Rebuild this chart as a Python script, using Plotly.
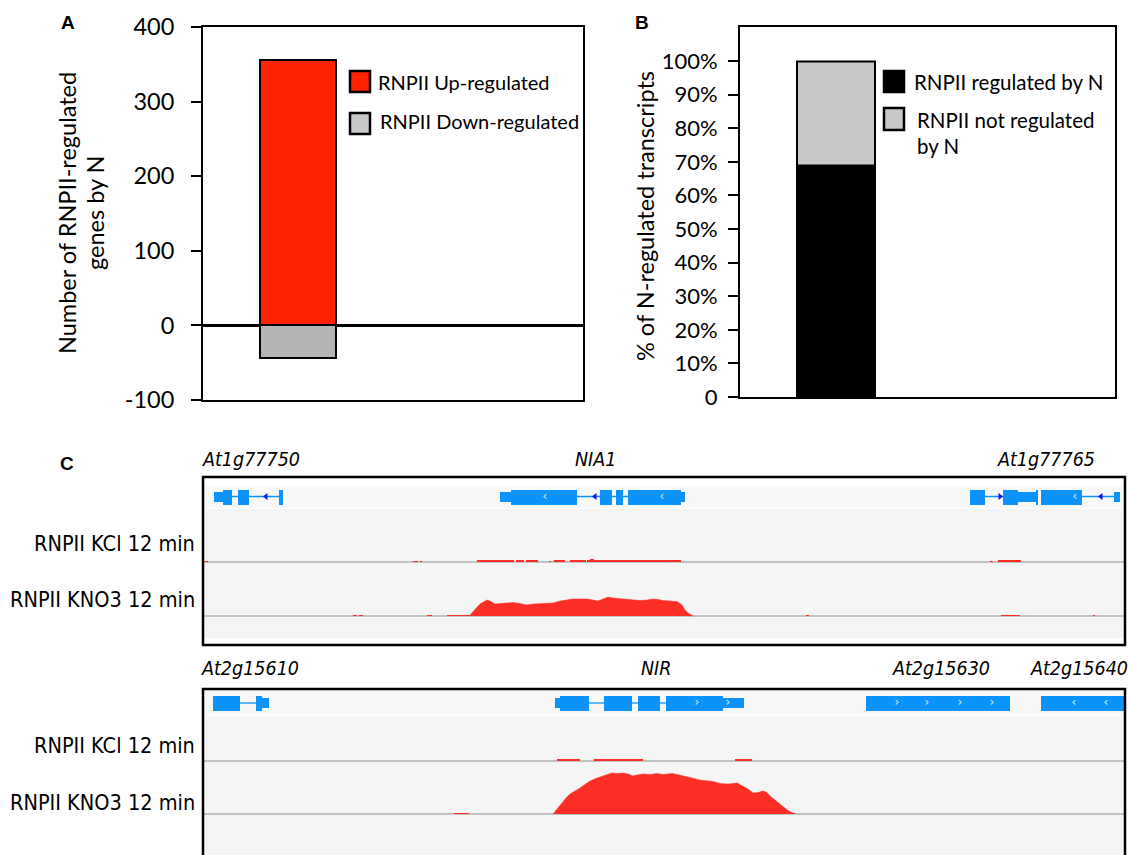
import plotly.graph_objects as go

W, H = 1128, 855
def fx(px): return px / W
def fy(py): return 1 - py / H

# ---------------- data ----------------
# Panel A
a_labels = ["RNPII Up-regulated", "RNPII Down-regulated"]
a_values = [356, -44]
a_tickvals = [-100, 0, 100, 200, 300, 400]
a_ticktext = ["-100", "0", "100", "200", "300", "400"]
a_title_lines = ["Number of RNPII-regulated", "genes by N"]
# Panel B
b_labels = ["RNPII regulated by N", "RNPII not regulated by N"]
b_values = [69, 31]
b_tickvals = [0, 10, 20, 30, 40, 50, 60, 70, 80, 90, 100]
b_ticktext = ["0", "10%", "20%", "30%", "40%", "50%", "60%", "70%", "80%", "90%", "100%"]

# Panel C, NIA1 locus (relative position, bp)
nia_gene_names = ["At1g77750", "NIA1", "At1g77765"]
nia_gene_label_pos = [0, 3910, 8420]
nia_exon_start = [190, 340, 750, 3070, 3960, 4120, 4240, 7660, 7990, 8320, 8370]
nia_exon_end = [280, 450, 790, 3730, 4080, 4190, 4770, 7810, 8140, 8340, 8780]
nia_utr_start = [100, 2960, 4770, 8140, 9100]
nia_utr_end = [190, 3070, 4810, 8320, 9160]
nia_intron_start = [280, 450, 3730, 4080, 4190, 7810, 8780]
nia_intron_end = [340, 750, 3960, 4120, 4240, 7990, 9100]
nia_intron_arrow_pos = [620, 3910, 7960, 8970]
nia_intron_arrow_dir = ["left", "left", "right", "left"]
nia_exon_arrow_pos = [3410, 4580, 8710]
nia_exon_arrow_dir = ["left", "left", "left"]
# KCl coverage segments
nia_kcl_start = [0, 2090, 2160, 2730, 3120, 3220, 3450, 3500, 3660, 3830, 3860, 3900, 3930, 7860, 7940]
nia_kcl_end = [40, 2140, 2180, 3100, 3200, 3340, 3470, 3610, 3820, 3860, 3900, 3930, 4770, 7890, 8170]
nia_kcl_cov = [1, 1, 1, 1.5, 1.3, 1.3, 1, 1.2, 1.5, 2, 3, 2.2, 1.2, 1, 1.5]
# KNO3 coverage: isolated low segments
nia_kno3_blip_start = [1490, 1550, 2230, 2430, 6020, 7970, 8890]
nia_kno3_blip_end = [1530, 1590, 2280, 2660, 6050, 8160, 8910]
nia_kno3_blip_cov = [1, 1, 1, 1, 1, 1, 1]
# KNO3 coverage: main peak over NIA1
nia_kno3_pos = [2660, 2710, 2760, 2830, 2860, 2910, 2960, 3030, 3090, 3160, 3230, 3290, 3360, 3430,
                3490, 3560, 3630, 3690, 3760, 3830, 3890, 3940, 3990, 4040, 4090, 4160, 4230, 4290,
                4360, 4430, 4490, 4540, 4590, 4660, 4730, 4780, 4810, 4840, 4890]
nia_kno3_cov = [1, 6, 12, 16, 15, 12, 12.5, 13, 13.5, 12.5, 11, 12, 12.5, 12.3,
                13, 15, 16, 17, 17, 17, 16, 15, 17, 19, 18, 17.5, 16.5, 16,
                15.5, 16, 17, 16.5, 15.5, 15, 14.5, 11, 6, 3, 0]

# Panel C, NIR locus
nir_gene_names = ["At2g15610", "NIR", "At2g15630", "At2g15640"]
nir_gene_label_pos = [0, 4520, 7370, 8750]
nir_exon_start = [90, 520, 3560, 4000, 4340, 4620, 6620, 8370]
nir_exon_end = [360, 580, 3850, 4280, 4560, 5190, 8060, 9200]
nir_utr_start = [580, 3510, 5190]
nir_utr_end = [650, 3560, 5400]
nir_intron_start = [360, 3850, 4280, 4560]
nir_intron_end = [520, 4000, 4340, 4620]
nir_exon_arrow_pos = [4930, 5240, 6930, 7230, 7560, 7880, 8700, 9020]
nir_exon_arrow_dir = ["right", "right", "right", "right", "right", "right", "left", "left"]
nir_kcl_start = [3530, 3590, 3690, 3900, 5310]
nir_kcl_end = [3590, 3690, 3760, 4390, 5480]
nir_kcl_cov = [1.5, 2, 1.5, 1.3, 1.3]
nir_kno3_blip_start = [2500]
nir_kno3_blip_end = [2650]
nir_kno3_blip_cov = [1]
nir_kno3_pos = [3490, 3530, 3560, 3590, 3620, 3660, 3730, 3760, 3830, 3860, 3930, 3960, 4030, 4080,
                4130, 4190, 4240, 4290, 4330, 4390, 4460, 4530, 4590, 4630, 4680, 4730, 4780, 4830,
                4880, 4960, 5020, 5090, 5160, 5240, 5330, 5390, 5440, 5490, 5540, 5590, 5630, 5660,
                5730, 5790, 5840, 5890, 5920]
nir_kno3_cov = [0, 5, 9, 13, 16, 20, 24, 26, 31, 33, 36, 37, 39, 41,
                40.5, 41, 40, 38, 39, 40, 39.5, 40.5, 39.5, 40, 40.5, 39.5, 38.5, 37,
                36, 34, 33.5, 32.5, 30.5, 30, 31, 28, 25, 21, 21.5, 23, 21.5, 18,
                12, 7, 3.5, 1, 0]

track_labels = ["RNPII KCl 12 min", "RNPII KNO3 12 min"]

# ---------------- styles ----------------
RED_A = "#ff2200"
GREY_A = "#b4b4b4"
GREY_B = "#c8c8c8"
GENE_BLUE = "#0c93fb"
COV_RED = "#fd2e26"
BASE_GREY = "#c2c2c2"
FONT_AB = "Lato, Open Sans, sans-serif"
FONT_C = "DejaVu Sans Condensed, DejaVu Sans, sans-serif"

fig = go.Figure()

# ---------- Panel A ----------
fig.add_trace(go.Bar(x=[0], y=[a_values[0]], width=0.39, marker=dict(color=RED_A, line=dict(color="black", width=2)),
                     name=a_labels[0], xaxis="x", yaxis="y"))
fig.add_trace(go.Bar(x=[0], y=[a_values[1]], width=0.39, marker=dict(color=GREY_A, line=dict(color="black", width=2)),
                     name=a_labels[1], xaxis="x", yaxis="y"))

# ---------- Panel B ----------
fig.add_trace(go.Bar(x=[0], y=[b_values[0]], base=[0], width=0.416,
                     marker=dict(color="black", line=dict(color="black", width=2)), name=b_labels[0],
                     xaxis="x2", yaxis="y2"))
fig.add_trace(go.Bar(x=[0], y=[b_values[1]], base=[b_values[0]], width=0.416,
                     marker=dict(color=GREY_B, line=dict(color="black", width=2)), name=b_labels[1],
                     xaxis="x2", yaxis="y2"))

# ---------- Panel C helpers ----------
def add_gene_track(xa, ya, ex_s, ex_e, utr_s, utr_e, in_s, in_e, in_arrow_pos, in_arrow_dir, ex_arrow_pos, ex_arrow_dir):
    xs, ys = [], []
    for s, e in zip(in_s, in_e):
        xs += [s, e, None]
        ys += [0, 0, None]
    fig.add_trace(go.Scatter(x=xs, y=ys, mode="lines", line=dict(color=GENE_BLUE, width=1.3),
                             xaxis=xa, yaxis=ya, hoverinfo="skip"))
    fig.add_trace(go.Bar(y=[0] * len(ex_s), x=[e - s for s, e in zip(ex_s, ex_e)], base=ex_s, orientation="h",
                         width=1.0, marker=dict(color=GENE_BLUE, line=dict(width=0)), xaxis=xa, yaxis=ya))
    fig.add_trace(go.Bar(y=[0] * len(utr_s), x=[e - s for s, e in zip(utr_s, utr_e)], base=utr_s, orientation="h",
                         width=0.66, marker=dict(color=GENE_BLUE, line=dict(width=0)), xaxis=xa, yaxis=ya))
    if in_arrow_pos:
        fig.add_trace(go.Scatter(x=in_arrow_pos, y=[0] * len(in_arrow_pos), mode="markers",
                                 marker=dict(symbol=["triangle-" + d for d in in_arrow_dir], size=6, color="#1010ee"),
                                 xaxis=xa, yaxis=ya))
    fig.add_trace(go.Scatter(x=ex_arrow_pos, y=[0] * len(ex_arrow_pos), mode="text",
                             text=["‹" if d == "left" else "›" for d in ex_arrow_dir],
                             textfont=dict(color="#d8ecff", size=12, family="DejaVu Sans"),
                             xaxis=xa, yaxis=ya))

def add_segments(xa, ya, s_list, e_list, v_list):
    fig.add_trace(go.Bar(x=[(s + e) / 2 for s, e in zip(s_list, e_list)], y=v_list, base=0,
                         width=[e - s for s, e in zip(s_list, e_list)],
                         marker=dict(color=COV_RED, line=dict(width=0)), xaxis=xa, yaxis=ya))

def add_peak(xa, ya, pos, cov):
    fig.add_trace(go.Scatter(x=pos, y=cov, mode="lines", fill="tozeroy", fillcolor=COV_RED,
                             line=dict(color=COV_RED, width=0.5), xaxis=xa, yaxis=ya))

# top browser: x3 with y3 (genes), y4 (KCl), y5 (KNO3)
add_gene_track("x3", "y3", nia_exon_start, nia_exon_end, nia_utr_start, nia_utr_end,
               nia_intron_start, nia_intron_end, nia_intron_arrow_pos, nia_intron_arrow_dir,
               nia_exon_arrow_pos, nia_exon_arrow_dir)
add_segments("x3", "y4", nia_kcl_start, nia_kcl_end, nia_kcl_cov)
add_segments("x3", "y5", nia_kno3_blip_start, nia_kno3_blip_end, nia_kno3_blip_cov)
add_peak("x3", "y5", nia_kno3_pos, nia_kno3_cov)

# bottom browser: x4 with y6 (genes), y7 (KCl), y8 (KNO3)
add_gene_track("x4", "y6", nir_exon_start, nir_exon_end, nir_utr_start, nir_utr_end,
               nir_intron_start, nir_intron_end, [], [], nir_exon_arrow_pos, nir_exon_arrow_dir)
add_segments("x4", "y7", nir_kcl_start, nir_kcl_end, nir_kcl_cov)
add_segments("x4", "y8", nir_kno3_blip_start, nir_kno3_blip_end, nir_kno3_blip_cov)
add_peak("x4", "y8", nir_kno3_pos, nir_kno3_cov)

# ---------------- layout ----------------
hidden = dict(showgrid=False, zeroline=False, showticklabels=False, ticks="", showline=False, automargin=False)

def track_y(top, bottom, rng, anchor, zeroline=True):
    return dict(domain=[fy(bottom), fy(top)], range=rng, anchor=anchor, showgrid=False,
                zeroline=zeroline, zerolinecolor=BASE_GREY, zerolinewidth=1.5, automargin=False,
                showticklabels=False, ticks="", showline=False, fixedrange=True)

browser_x = [fx(204), fx(1124)]

fig.update_layout(
    width=W, height=H, margin=dict(l=0, r=0, t=0, b=0, pad=0, autoexpand=False),
    paper_bgcolor="white", plot_bgcolor="rgba(0,0,0,0)",
    showlegend=False, barmode="overlay", bargap=0,
    xaxis=dict(domain=[fx(203), fx(583)], range=[-0.487, 1.462], anchor="y", automargin=False,
               showgrid=False, zeroline=False, showticklabels=False, ticks="",
               showline=True, linecolor="black", linewidth=2, mirror=True),
    yaxis=dict(domain=[fy(400), fy(27)], range=[-100, 400], anchor="x", tickvals=a_tickvals, ticktext=a_ticktext,
               ticks="outside", ticklen=10, tickwidth=2, tickcolor="black", ticklabelstandoff=12,
               tickfont=dict(family=FONT_AB, size=23.5, color="black"), automargin=False,
               showgrid=False, zeroline=True, zerolinecolor="black", zerolinewidth=2.5,
               showline=True, linecolor="black", linewidth=2, mirror=True),
    xaxis2=dict(domain=[fx(740), fx(1115)], range=[-0.51, 1.49], anchor="y2", automargin=False,
                showgrid=False, zeroline=False, showticklabels=False, ticks="",
                showline=True, linecolor="black", linewidth=2, mirror=True),
    yaxis2=dict(domain=[fy(397), fy(27.4)], range=[0, 110], anchor="x2", tickvals=b_tickvals, ticktext=b_ticktext,
                ticks="outside", ticklen=10, tickwidth=2, tickcolor="black", ticklabelstandoff=6,
                tickfont=dict(family=FONT_AB, size=22, color="black"), automargin=False,
                showgrid=False, zeroline=False,
                showline=True, linecolor="black", linewidth=2, mirror=True),
    xaxis3=dict(domain=browser_x, range=[0, 9200], anchor="y3", fixedrange=True, **hidden),
    yaxis3=dict(domain=[fy(511.5), fy(481.5)], range=[-1, 1], anchor="x3", fixedrange=True, **hidden),
    yaxis4=track_y(512, 566, [-4, 50], "x3"),
    yaxis5=track_y(567, 621, [-5, 49], "x3"),
    xaxis4=dict(domain=browser_x, range=[0, 9200], anchor="y6", fixedrange=True, **hidden),
    yaxis6=dict(domain=[fy(718), fy(688)], range=[-1, 1], anchor="x4", fixedrange=True, **hidden),
    yaxis7=track_y(716, 765, [-4, 45], "x4"),
    yaxis8=track_y(766, 818, [-4, 48], "x4"),
)

shapes = []
def prect(x0, y0, x1, y1, fill=None, line_color=None, lw=0, layer="above"):
    shapes.append(dict(type="rect", xref="paper", yref="paper", x0=fx(x0), x1=fx(x1), y0=fy(y1), y1=fy(y0),
                       fillcolor=fill if fill else "rgba(0,0,0,0)",
                       line=dict(color=line_color if line_color else "rgba(0,0,0,0)", width=lw), layer=layer))

# browser backgrounds
prect(204, 486, 1124, 508, fill="#f8f8f8", layer="below")
prect(204, 509, 1124, 638, fill="#f5f5f5", layer="below")
prect(204, 690, 1124, 715, fill="#f8f8f8", layer="below")
prect(204, 716, 1124, 860, fill="#f5f5f5", layer="below")
# browser frames
prect(203, 477, 1125, 645, line_color="black", lw=2.5)
prect(203, 689, 1125, 870, line_color="black", lw=2.5)
# legend keys
prect(350, 71, 370, 92, fill=RED_A, line_color="black", lw=2.5)
prect(350, 113, 370, 134, fill=GREY_B, line_color="black", lw=2.5)
prect(884, 71, 904, 92, fill="black", line_color="black", lw=2.5)
prect(884, 108, 904, 130, fill=GREY_B, line_color="black", lw=2.5)
fig.update_layout(shapes=shapes)

ann = []
def ptext(txt, x, y, size, family, xanchor="left", yanchor="middle", bold=False, angle=0):
    ann.append(dict(text=txt, x=fx(x), y=fy(y), xref="paper", yref="paper",
                    xanchor=xanchor, yanchor=yanchor, showarrow=False, textangle=angle,
                    font=dict(size=size, family=family, color="black",
                              weight="bold" if bold else "normal")))

# panel letters
ptext("A", 68, 22, 19, "Liberation Sans, Arial", xanchor="center", bold=True)
ptext("B", 642, 22, 19, "Liberation Sans, Arial", xanchor="center", bold=True)
ptext("C", 67, 463, 19, "Liberation Sans, Arial", xanchor="center", bold=True)
# axis titles
ptext(a_title_lines[0], 67, 213, 23.5, FONT_AB, xanchor="center", angle=-90)
ptext(a_title_lines[1], 95, 213, 23.5, FONT_AB, xanchor="center", angle=-90)
ptext("% of N-regulated transcripts", 645, 216, 23.5, FONT_AB, xanchor="center", angle=-90)
# legend texts
ptext(a_labels[0], 376, 82, 20, FONT_AB)
ptext(a_labels[1], 378, 121, 20, FONT_AB)
ptext("RNPII regulated by N", 912, 82, 20.5, FONT_AB)
ptext("RNPII not regulated", 915, 120, 20.5, FONT_AB)
ptext("by N", 915, 146, 20.5, FONT_AB)
# track labels
for yk, yn in [(543, 599), (745, 802)]:
    ptext(track_labels[0], 197, yk, 21.5, FONT_C, xanchor="right")
    ptext(track_labels[1], 197, yn, 21.5, FONT_C, xanchor="right")
# gene labels (positioned in genomic coordinates)
for name, pos in zip(nia_gene_names, nia_gene_label_pos):
    ann.append(dict(text=name, x=pos, y=fy(459), xref="x3", yref="paper",
                    xanchor="left" if pos <= 0 else "center", xshift=-4 if pos <= 0 else 0,
                    yanchor="middle", showarrow=False,
                    font=dict(size=19.5, family=FONT_C, color="black", style="italic")))
for name, pos in zip(nir_gene_names, nir_gene_label_pos):
    ann.append(dict(text=name, x=pos, y=fy(668), xref="x4", yref="paper",
                    xanchor="left" if pos <= 0 else "center", xshift=-5 if pos <= 0 else 0,
                    yanchor="middle", showarrow=False,
                    font=dict(size=19.5, family=FONT_C, color="black", style="italic")))
fig.update_layout(annotations=ann)

fig.write_html("out.html", config={"displayModeBar": False},
               post_script="document.body.style.margin='0px';")
